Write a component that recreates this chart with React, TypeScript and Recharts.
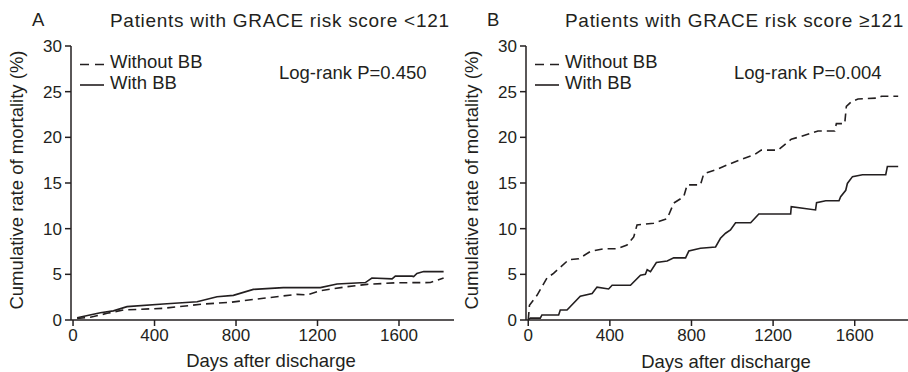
import React from 'react';
import { LineChart, Line, XAxis, YAxis } from 'recharts';

// Panel A: GRACE risk score <121
const aWithoutDays = [20, 85, 167, 248, 444, 641, 772, 935, 1099, 1148, 1214, 1345, 1443, 1590, 1754, 1819];
const aWithoutRate = [0.18, 0.3, 0.73, 1.1, 1.28, 1.75, 1.94, 2.38, 2.81, 2.74, 3.2, 3.65, 3.9, 4.08, 4.1, 4.6];
const aWithDays = [20, 60, 134, 198, 265, 443, 609, 707, 787, 885, 1032, 1214, 1296, 1435, 1467, 1566, 1582, 1664, 1672, 1688, 1721, 1819];
const aWithRate = [0.25, 0.44, 0.8, 1.0, 1.46, 1.75, 2.0, 2.55, 2.7, 3.35, 3.55, 3.55, 3.95, 4.1, 4.6, 4.5, 4.8, 4.8, 4.75, 5.1, 5.3, 5.3];

// Panel B: GRACE risk score >=121
const bWithoutDays = [0, 6, 43, 92, 124, 198, 247, 304, 370, 435, 484, 517, 533, 615, 681, 713, 762, 779, 844, 860, 913, 978, 1044, 1109, 1142, 1224, 1289, 1338, 1420, 1502, 1510, 1551, 1559, 1584, 1616, 1714, 1731, 1813];
const bWithoutRate = [0, 1.6, 2.7, 4.6, 5.1, 6.6, 6.7, 7.5, 7.8, 7.8, 8.2, 9.1, 10.4, 10.6, 11.1, 12.8, 13.5, 14.8, 14.8, 16.0, 16.4, 17.0, 17.6, 18.1, 18.6, 18.6, 19.8, 20.1, 20.7, 20.7, 21.5, 21.5, 23.4, 23.9, 24.2, 24.3, 24.5, 24.5];
const bWithDays = [0, 10, 59, 67, 149, 157, 190, 255, 313, 337, 394, 411, 501, 550, 574, 583, 599, 628, 681, 713, 771, 787, 844, 918, 942, 967, 991, 1016, 1090, 1130, 1286, 1289, 1408, 1413, 1458, 1523, 1531, 1556, 1564, 1589, 1638, 1752, 1760, 1813];
const bWithRate = [0, 0.2, 0.2, 0.55, 0.55, 1.1, 1.1, 2.6, 2.9, 3.6, 3.4, 3.8, 3.8, 4.9, 5.0, 5.5, 5.3, 6.3, 6.45, 6.8, 6.8, 7.55, 7.85, 8.0, 8.95, 9.5, 9.85, 10.65, 10.65, 11.6, 11.6, 12.4, 12.05, 12.85, 13.05, 13.05, 13.5, 14.2, 14.95, 15.7, 15.9, 15.9, 16.8, 16.8];

const xTicks = [0, 400, 800, 1200, 1600];
const yTicks = [0, 5, 10, 15, 20, 25, 30];

const INK = '#231f20';
const FONT = '"Liberation Sans", Arial, Helvetica, sans-serif';

const toRows = (days: number[], rates: number[]) => days.map((day, i) => ({ day, v: rates[i] }));

interface PanelProps {
  letter: string;
  title: string;
  pValue: string;
  without: { day: number; v: number }[];
  withBB: { day: number; v: number }[];
  domain: [number, number];
  left: number;
  xLabelTop: number;
}

function Panel({ letter, title, pValue, without, withBB, domain, left, xLabelTop }: PanelProps) {
  const text: React.CSSProperties = { position: 'absolute', fontFamily: FONT, fontSize: 18.5, color: INK, whiteSpace: 'nowrap', lineHeight: 1 };
  return (
    <div style={{ position: 'absolute', left, top: 0, width: 454, height: 372 }}>
      <LineChart width={454} height={372} margin={{ top: 46, right: 0, bottom: 22, left: 21 }}>
        <XAxis
          dataKey="day"
          type="number"
          domain={domain}
          ticks={xTicks}
          allowDataOverflow
          height={30}
          tickSize={6}
          tickMargin={3}
          stroke={INK}
          strokeWidth={1.5}
          tick={{ fill: INK, fontSize: 17, fontFamily: FONT }}
        />
        <YAxis
          type="number"
          domain={[0, 30]}
          ticks={yTicks}
          width={50}
          tickSize={6}
          tickMargin={3}
          stroke={INK}
          strokeWidth={1.5}
          tick={{ fill: INK, fontSize: 17, fontFamily: FONT }}
        />
        <Line data={without} dataKey="v" type="linear" stroke={INK} strokeWidth={1.6} strokeDasharray="8 5" dot={false} isAnimationActive={false} />
        <Line data={withBB} dataKey="v" type="linear" stroke={INK} strokeWidth={1.6} dot={false} isAnimationActive={false} />
      </LineChart>

      <div style={{ ...text, left: 32, top: 11 }}>{letter}</div>
      <div style={{ ...text, left: 110, top: 11, fontSize: 19, letterSpacing: 0.7 }}>{title}</div>
      <div style={{ ...text, left: 279, top: 63.5 }}>{pValue}</div>

      {/* legend */}
      <svg style={{ position: 'absolute', left: 0, top: 0 }} width={454} height={120}>
        <line x1={80} y1={64.5} x2={104} y2={64.5} stroke={INK} strokeWidth={1.6} strokeDasharray="9 6" />
        <line x1={80} y1={85} x2={104} y2={85} stroke={INK} strokeWidth={1.6} />
      </svg>
      <div style={{ ...text, left: 110, top: 52.5 }}>Without BB</div>
      <div style={{ ...text, left: 110, top: 74 }}>With BB</div>

      <div style={{ ...text, left: 17, top: 180, transform: 'translate(-50%, -50%) rotate(-90deg)' }}>
        Cumulative rate of mortality (%)
      </div>
      <div style={{ ...text, left: 271, top: xLabelTop, transform: 'translateX(-50%)' }}>Days after discharge</div>
    </div>
  );
}

export default function App() {
  return (
    <div style={{ position: 'absolute', left: 0, top: 0, width: 908, height: 372, overflow: 'hidden', background: '#fff' }}>
      <Panel
        letter="A"
        title="Patients with GRACE risk score <121"
        pValue="Log-rank P=0.450"
        without={toRows(aWithoutDays, aWithoutRate)}
        withBB={toRows(aWithDays, aWithRate)}
        domain={[-10, 1870]}
        left={0}
        xLabelTop={351.5}
      />
      <Panel
        letter="B"
        title="Patients with GRACE risk score ≥121"
        pValue="Log-rank P=0.004"
        without={toRows(bWithoutDays, bWithoutRate)}
        withBB={toRows(bWithDays, bWithRate)}
        domain={[-11, 1866]}
        left={455}
        xLabelTop={352.5}
      />
    </div>
  );
}
